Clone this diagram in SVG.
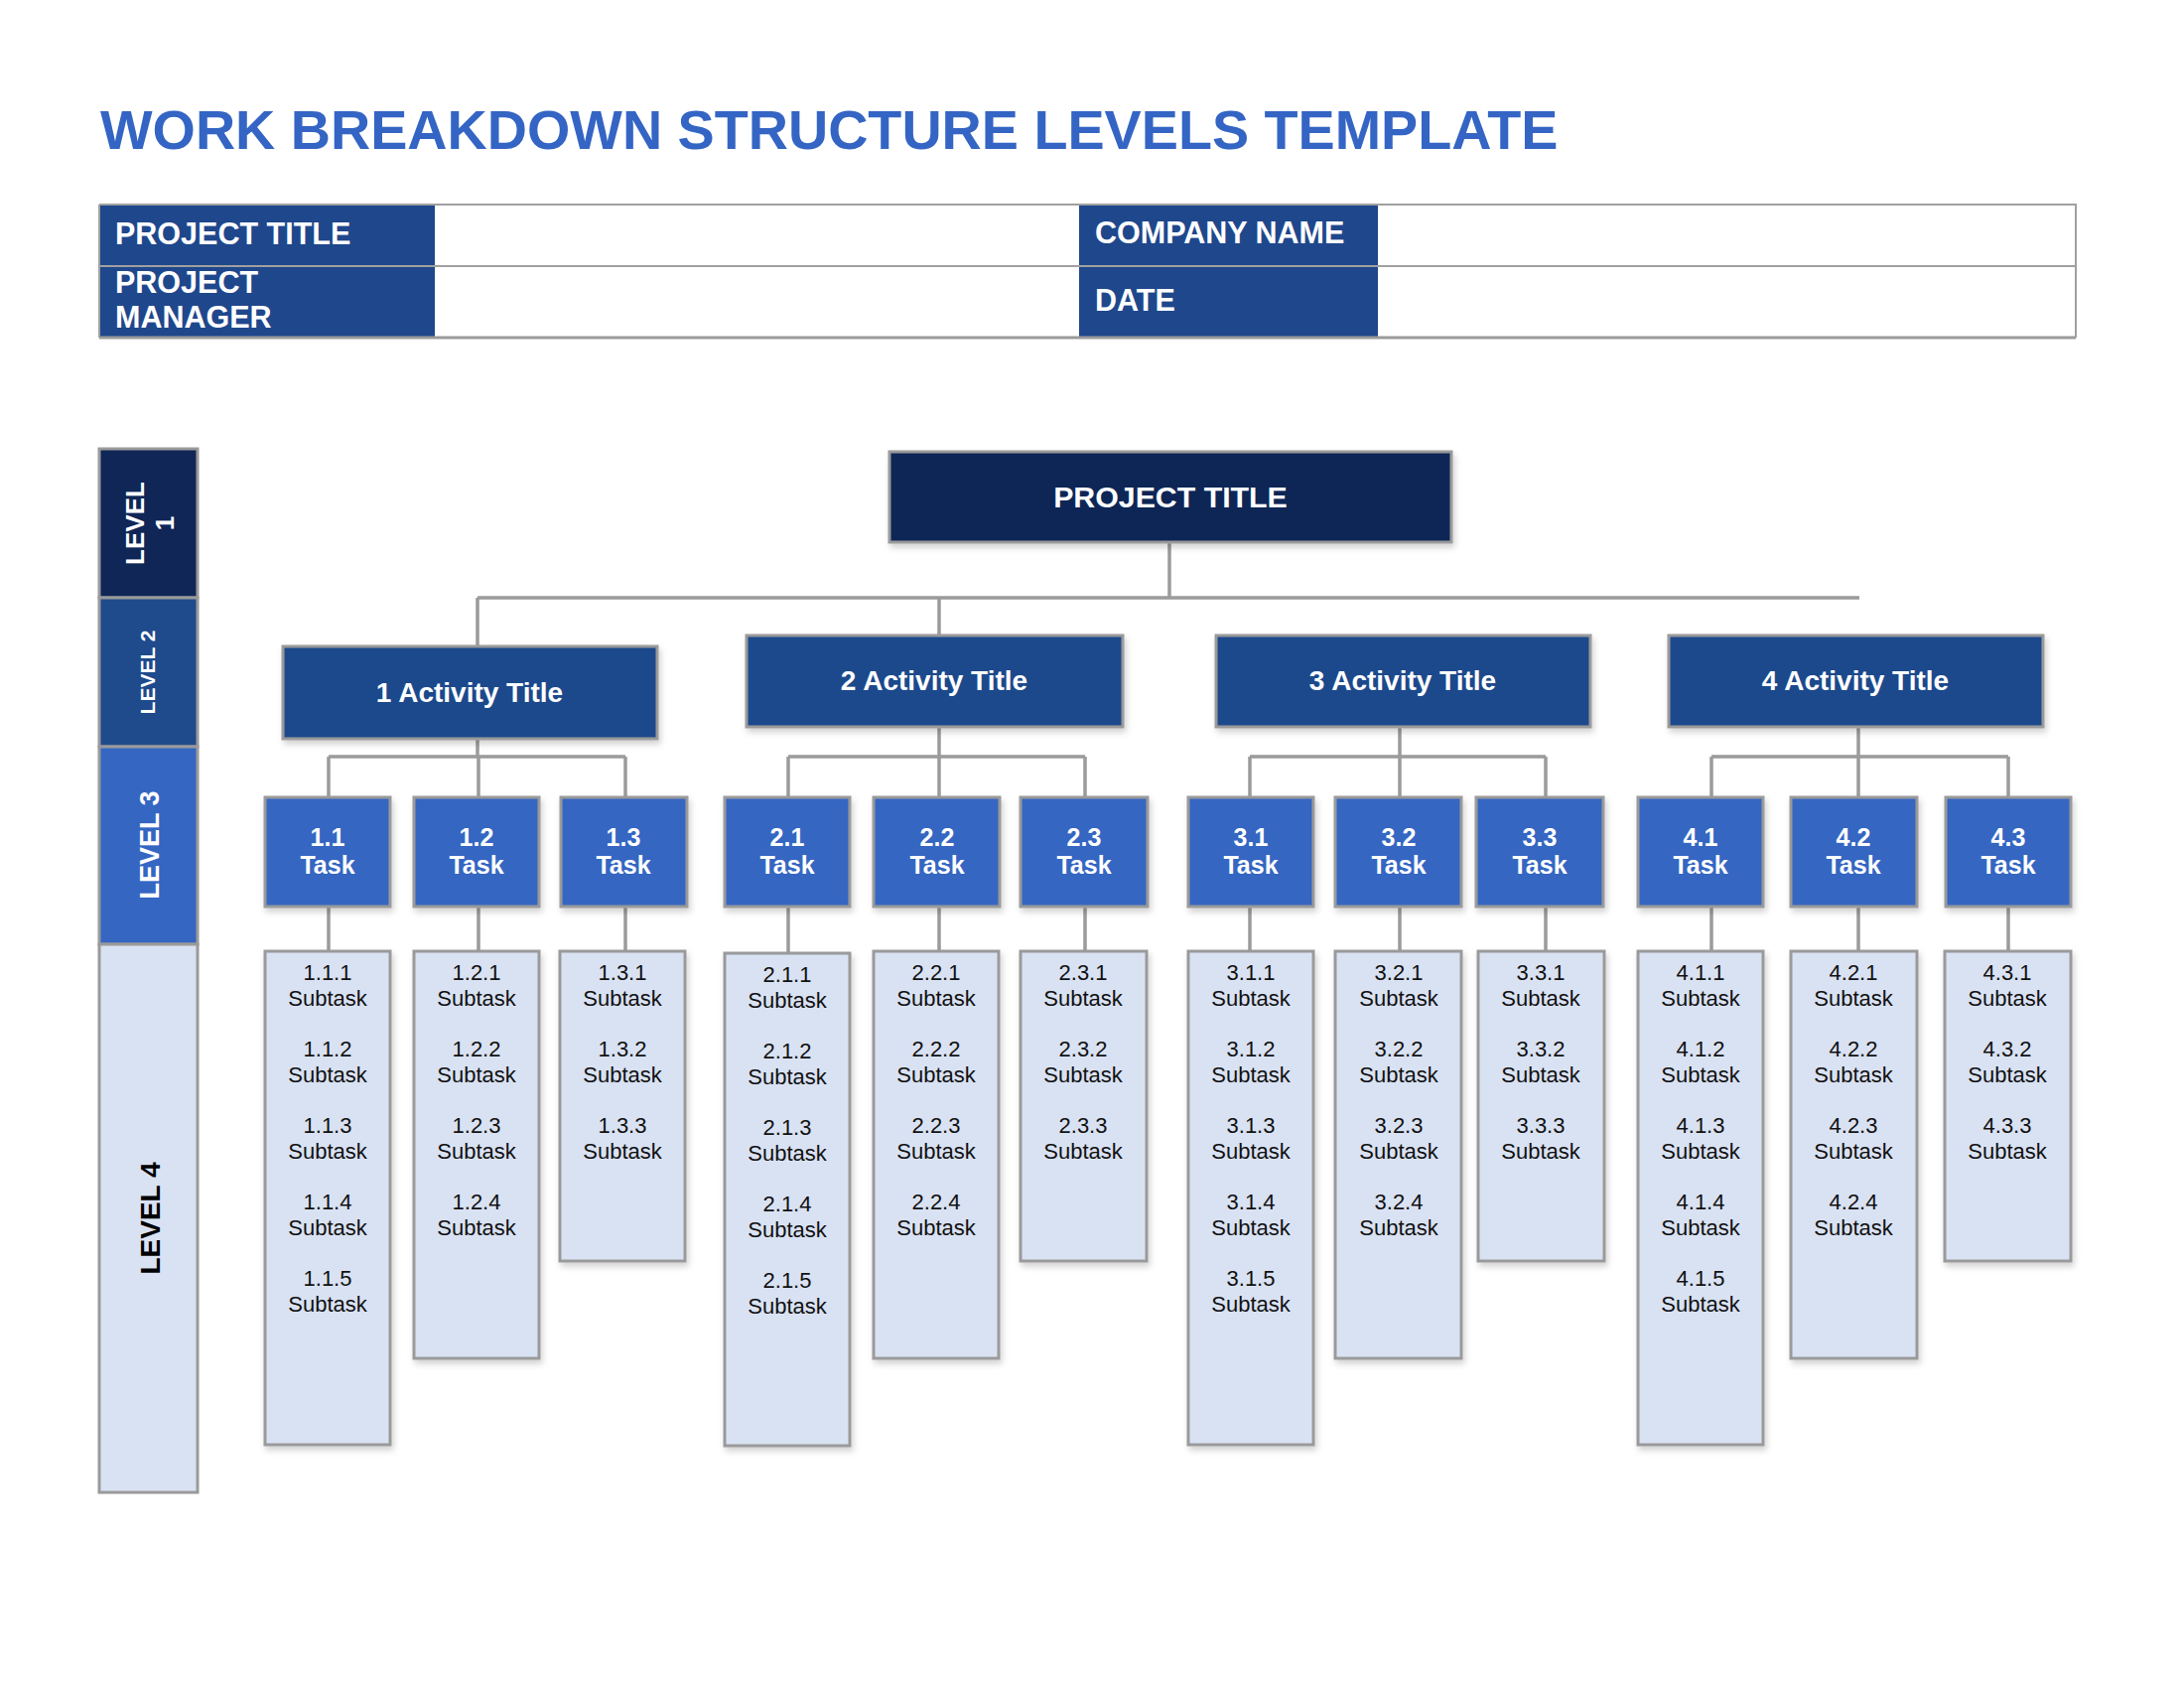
<svg xmlns="http://www.w3.org/2000/svg" width="2200" height="1700" viewBox="0 0 2200 1700">
<defs>
<filter id="sh" x="-10%" y="-10%" width="130%" height="130%">
<feDropShadow dx="2" dy="4" stdDeviation="3" flood-color="#000" flood-opacity="0.18"/>
</filter>
</defs>
<style>
text{font-family:"Liberation Sans",Arial,sans-serif}
.title{font-size:55.7px;font-weight:bold;fill:#3465C4}
.hdr{font-size:30.5px;font-weight:bold;fill:#fff}
.box{stroke:#9a9a9a;stroke-width:3}
.navy{fill:#0F2657}
.act{fill:#1F4A8C}
.task{fill:#3466C2}
.sub{fill:#D9E2F3}
.conn{stroke:#9b9b9b;stroke-width:3.5;fill:none}
.wt{fill:#fff;font-weight:bold;text-anchor:middle}
.big{font-size:28px}
.pt{font-size:30.3px}
.tk{font-size:25px}
.st{font-size:22px;fill:#111;text-anchor:middle}
.lv{font-weight:bold;text-anchor:middle}
.tline{stroke:#a0a0a0;stroke-width:2;fill:none}
</style>
<rect width="2200" height="1700" fill="#fff"/>

<text class="title" x="101" y="150">WORK BREAKDOWN STRUCTURE LEVELS TEMPLATE</text>

<g id="header-table">
<rect x="100" y="206" width="1991" height="134" fill="#fff"/>
<rect x="100" y="206" width="338" height="62" fill="#1F478C"/>
<rect x="100" y="269" width="338" height="71" fill="#1F478C"/>
<rect x="1087" y="206" width="301" height="62" fill="#1F478C"/>
<rect x="1087" y="269" width="301" height="71" fill="#1F478C"/>
<path class="tline" d="M100,206 H2091 V340 M100,268 H2091 M100,206 V340"/>
<path d="M100,340 H2091" stroke="#9a9a9a" stroke-width="3"/>
<text class="hdr" x="116" y="246">PROJECT TITLE</text>
<text class="hdr" x="116" y="295">PROJECT</text>
<text class="hdr" x="116" y="330">MANAGER</text>
<text class="hdr" x="1103" y="245">COMPANY NAME</text>
<text class="hdr" x="1103" y="313">DATE</text>
</g>

<g id="level-column">
<rect class="box navy" x="100" y="452" width="99" height="150"/>
<rect class="box act" x="100" y="602" width="99" height="150"/>
<rect class="box task" x="100" y="752" width="99" height="199"/>
<rect class="box sub" x="100" y="951" width="99" height="552"/>
<text class="lv" fill="#fff" font-size="26" transform="translate(145,527) rotate(-90)">LEVEL</text>
<text class="lv" fill="#fff" font-size="26" transform="translate(175,527) rotate(-90)">1</text>
<text class="lv" fill="#fff" font-size="21" transform="translate(156,677) rotate(-90)">LEVEL 2</text>
<text class="lv" fill="#fff" font-size="27" transform="translate(160,851) rotate(-90)">LEVEL 3</text>
<text class="lv" fill="#000" font-size="28" transform="translate(161,1227) rotate(-90)">LEVEL 4</text>
</g>

<g id="connectors">
<path class="conn" d="M1178,547 V602 M481,602 H1873 M481,602 V651 M946,602 V640"/>
<path class="conn" d="M481,744 V762 M331,762 H630 M331,762 V803 M482,762 V803 M630,762 V803"/>
<path class="conn" d="M946,732 V762 M794,762 H1093 M794,762 V803 M946,762 V803 M1093,762 V803"/>
<path class="conn" d="M1410,732 V762 M1259,762 H1557 M1259,762 V803 M1410,762 V803 M1557,762 V803"/>
<path class="conn" d="M1872,732 V762 M1724,762 H2023 M1724,762 V803 M1872,762 V803 M2023,762 V803"/>
<path class="conn" d="M331,913 V958 M482,913 V958 M630,913 V958 M794,913 V960 M946,913 V958 M1093,913 V958 M1259,913 V958 M1410,913 V958 M1557,913 V958 M1724,913 V958 M1872,913 V958 M2023,913 V958"/>
</g>

<g id="project-title">
<rect class="box navy" filter="url(#sh)" x="896" y="455" width="566" height="91"/>
<text class="wt pt" x="1179" y="511">PROJECT TITLE</text>
</g>

<g id="activity-1">
<rect class="box act" filter="url(#sh)" x="285" y="651" width="377" height="93"/>
<text class="wt big" x="473" y="707">1 Activity Title</text>
</g>
<g id="activity-2">
<rect class="box act" filter="url(#sh)" x="752" y="640" width="379" height="92"/>
<text class="wt big" x="941" y="695">2 Activity Title</text>
</g>
<g id="activity-3">
<rect class="box act" filter="url(#sh)" x="1225" y="640" width="377" height="92"/>
<text class="wt big" x="1413" y="695">3 Activity Title</text>
</g>
<g id="activity-4">
<rect class="box act" filter="url(#sh)" x="1681" y="640" width="377" height="92"/>
<text class="wt big" x="1869" y="695">4 Activity Title</text>
</g>

<g id="task-1-1"><rect class="box task" filter="url(#sh)" x="267" y="803" width="126" height="110"/><text class="wt tk" x="330" y="852">1.1</text><text class="wt tk" x="330" y="880">Task</text></g>
<g id="task-1-2"><rect class="box task" filter="url(#sh)" x="417" y="803" width="126" height="110"/><text class="wt tk" x="480" y="852">1.2</text><text class="wt tk" x="480" y="880">Task</text></g>
<g id="task-1-3"><rect class="box task" filter="url(#sh)" x="565" y="803" width="127" height="110"/><text class="wt tk" x="628" y="852">1.3</text><text class="wt tk" x="628" y="880">Task</text></g>
<g id="task-2-1"><rect class="box task" filter="url(#sh)" x="730" y="803" width="126" height="110"/><text class="wt tk" x="793" y="852">2.1</text><text class="wt tk" x="793" y="880">Task</text></g>
<g id="task-2-2"><rect class="box task" filter="url(#sh)" x="880" y="803" width="127" height="110"/><text class="wt tk" x="944" y="852">2.2</text><text class="wt tk" x="944" y="880">Task</text></g>
<g id="task-2-3"><rect class="box task" filter="url(#sh)" x="1028" y="803" width="128" height="110"/><text class="wt tk" x="1092" y="852">2.3</text><text class="wt tk" x="1092" y="880">Task</text></g>
<g id="task-3-1"><rect class="box task" filter="url(#sh)" x="1197" y="803" width="126" height="110"/><text class="wt tk" x="1260" y="852">3.1</text><text class="wt tk" x="1260" y="880">Task</text></g>
<g id="task-3-2"><rect class="box task" filter="url(#sh)" x="1345" y="803" width="127" height="110"/><text class="wt tk" x="1409" y="852">3.2</text><text class="wt tk" x="1409" y="880">Task</text></g>
<g id="task-3-3"><rect class="box task" filter="url(#sh)" x="1487" y="803" width="128" height="110"/><text class="wt tk" x="1551" y="852">3.3</text><text class="wt tk" x="1551" y="880">Task</text></g>
<g id="task-4-1"><rect class="box task" filter="url(#sh)" x="1650" y="803" width="126" height="110"/><text class="wt tk" x="1713" y="852">4.1</text><text class="wt tk" x="1713" y="880">Task</text></g>
<g id="task-4-2"><rect class="box task" filter="url(#sh)" x="1804" y="803" width="127" height="110"/><text class="wt tk" x="1867" y="852">4.2</text><text class="wt tk" x="1867" y="880">Task</text></g>
<g id="task-4-3"><rect class="box task" filter="url(#sh)" x="1960" y="803" width="126" height="110"/><text class="wt tk" x="2023" y="852">4.3</text><text class="wt tk" x="2023" y="880">Task</text></g>

<g id="subtasks-1-1"><rect class="box sub" filter="url(#sh)" x="267" y="958" width="126" height="497"/>
<text class="st" x="330" y="987">1.1.1</text><text class="st" x="330" y="1013">Subtask</text>
<text class="st" x="330" y="1064">1.1.2</text><text class="st" x="330" y="1090">Subtask</text>
<text class="st" x="330" y="1141">1.1.3</text><text class="st" x="330" y="1167">Subtask</text>
<text class="st" x="330" y="1218">1.1.4</text><text class="st" x="330" y="1244">Subtask</text>
<text class="st" x="330" y="1295">1.1.5</text><text class="st" x="330" y="1321">Subtask</text></g>
<g id="subtasks-1-2"><rect class="box sub" filter="url(#sh)" x="417" y="958" width="126" height="410"/>
<text class="st" x="480" y="987">1.2.1</text><text class="st" x="480" y="1013">Subtask</text>
<text class="st" x="480" y="1064">1.2.2</text><text class="st" x="480" y="1090">Subtask</text>
<text class="st" x="480" y="1141">1.2.3</text><text class="st" x="480" y="1167">Subtask</text>
<text class="st" x="480" y="1218">1.2.4</text><text class="st" x="480" y="1244">Subtask</text></g>
<g id="subtasks-1-3"><rect class="box sub" filter="url(#sh)" x="564" y="958" width="126" height="312"/>
<text class="st" x="627" y="987">1.3.1</text><text class="st" x="627" y="1013">Subtask</text>
<text class="st" x="627" y="1064">1.3.2</text><text class="st" x="627" y="1090">Subtask</text>
<text class="st" x="627" y="1141">1.3.3</text><text class="st" x="627" y="1167">Subtask</text></g>
<g id="subtasks-2-1"><rect class="box sub" filter="url(#sh)" x="730" y="960" width="126" height="496"/>
<text class="st" x="793" y="989">2.1.1</text><text class="st" x="793" y="1015">Subtask</text>
<text class="st" x="793" y="1066">2.1.2</text><text class="st" x="793" y="1092">Subtask</text>
<text class="st" x="793" y="1143">2.1.3</text><text class="st" x="793" y="1169">Subtask</text>
<text class="st" x="793" y="1220">2.1.4</text><text class="st" x="793" y="1246">Subtask</text>
<text class="st" x="793" y="1297">2.1.5</text><text class="st" x="793" y="1323">Subtask</text></g>
<g id="subtasks-2-2"><rect class="box sub" filter="url(#sh)" x="880" y="958" width="126" height="410"/>
<text class="st" x="943" y="987">2.2.1</text><text class="st" x="943" y="1013">Subtask</text>
<text class="st" x="943" y="1064">2.2.2</text><text class="st" x="943" y="1090">Subtask</text>
<text class="st" x="943" y="1141">2.2.3</text><text class="st" x="943" y="1167">Subtask</text>
<text class="st" x="943" y="1218">2.2.4</text><text class="st" x="943" y="1244">Subtask</text></g>
<g id="subtasks-2-3"><rect class="box sub" filter="url(#sh)" x="1028" y="958" width="127" height="312"/>
<text class="st" x="1091" y="987">2.3.1</text><text class="st" x="1091" y="1013">Subtask</text>
<text class="st" x="1091" y="1064">2.3.2</text><text class="st" x="1091" y="1090">Subtask</text>
<text class="st" x="1091" y="1141">2.3.3</text><text class="st" x="1091" y="1167">Subtask</text></g>
<g id="subtasks-3-1"><rect class="box sub" filter="url(#sh)" x="1197" y="958" width="126" height="497"/>
<text class="st" x="1260" y="987">3.1.1</text><text class="st" x="1260" y="1013">Subtask</text>
<text class="st" x="1260" y="1064">3.1.2</text><text class="st" x="1260" y="1090">Subtask</text>
<text class="st" x="1260" y="1141">3.1.3</text><text class="st" x="1260" y="1167">Subtask</text>
<text class="st" x="1260" y="1218">3.1.4</text><text class="st" x="1260" y="1244">Subtask</text>
<text class="st" x="1260" y="1295">3.1.5</text><text class="st" x="1260" y="1321">Subtask</text></g>
<g id="subtasks-3-2"><rect class="box sub" filter="url(#sh)" x="1345" y="958" width="127" height="410"/>
<text class="st" x="1409" y="987">3.2.1</text><text class="st" x="1409" y="1013">Subtask</text>
<text class="st" x="1409" y="1064">3.2.2</text><text class="st" x="1409" y="1090">Subtask</text>
<text class="st" x="1409" y="1141">3.2.3</text><text class="st" x="1409" y="1167">Subtask</text>
<text class="st" x="1409" y="1218">3.2.4</text><text class="st" x="1409" y="1244">Subtask</text></g>
<g id="subtasks-3-3"><rect class="box sub" filter="url(#sh)" x="1489" y="958" width="127" height="312"/>
<text class="st" x="1552" y="987">3.3.1</text><text class="st" x="1552" y="1013">Subtask</text>
<text class="st" x="1552" y="1064">3.3.2</text><text class="st" x="1552" y="1090">Subtask</text>
<text class="st" x="1552" y="1141">3.3.3</text><text class="st" x="1552" y="1167">Subtask</text></g>
<g id="subtasks-4-1"><rect class="box sub" filter="url(#sh)" x="1650" y="958" width="126" height="497"/>
<text class="st" x="1713" y="987">4.1.1</text><text class="st" x="1713" y="1013">Subtask</text>
<text class="st" x="1713" y="1064">4.1.2</text><text class="st" x="1713" y="1090">Subtask</text>
<text class="st" x="1713" y="1141">4.1.3</text><text class="st" x="1713" y="1167">Subtask</text>
<text class="st" x="1713" y="1218">4.1.4</text><text class="st" x="1713" y="1244">Subtask</text>
<text class="st" x="1713" y="1295">4.1.5</text><text class="st" x="1713" y="1321">Subtask</text></g>
<g id="subtasks-4-2"><rect class="box sub" filter="url(#sh)" x="1804" y="958" width="127" height="410"/>
<text class="st" x="1867" y="987">4.2.1</text><text class="st" x="1867" y="1013">Subtask</text>
<text class="st" x="1867" y="1064">4.2.2</text><text class="st" x="1867" y="1090">Subtask</text>
<text class="st" x="1867" y="1141">4.2.3</text><text class="st" x="1867" y="1167">Subtask</text>
<text class="st" x="1867" y="1218">4.2.4</text><text class="st" x="1867" y="1244">Subtask</text></g>
<g id="subtasks-4-3"><rect class="box sub" filter="url(#sh)" x="1959" y="958" width="127" height="312"/>
<text class="st" x="2022" y="987">4.3.1</text><text class="st" x="2022" y="1013">Subtask</text>
<text class="st" x="2022" y="1064">4.3.2</text><text class="st" x="2022" y="1090">Subtask</text>
<text class="st" x="2022" y="1141">4.3.3</text><text class="st" x="2022" y="1167">Subtask</text></g>
</svg>
